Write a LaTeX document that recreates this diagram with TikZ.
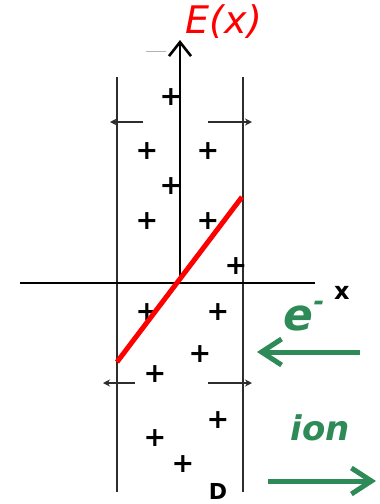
\documentclass[tikz,border=0pt]{standalone}
\usepackage{fontspec}
\setmainfont{DejaVu Sans}
\usetikzlibrary{arrows.meta}
\definecolor{sgreen}{RGB}{46,139,87}
\definecolor{darkline}{RGB}{45,45,45}
\tikzset{
  plate/.style={darkline,line width=2pt},
  axisline/.style={black,line width=1.8pt},
  plus/.style={inner sep=0pt,font=\fontsize{27}{27}\selectfont\bfseries},
  greenarrow/.style={sgreen,line width=5pt,-{Straight Barb[length=20pt,width=26pt,line width=5pt]}},
  smallarrow/.style={darkline,line width=1.8pt,-{Stealth[length=7pt,width=7pt]}},
  greentext/.style={sgreen,font=\fontsize{34}{34}\selectfont\itshape\bfseries},
}
\begin{document}
\begin{tikzpicture}[x=1pt,y=-1pt]
\useasboundingbox (0,0) rectangle (380,504);
% plates
\coordinate (LT) at (117,77); \coordinate (LB) at (117,492);
\coordinate (RT) at (243,77); \coordinate (RB) at (243,492);
\draw[plate] (LT) -- (LB);
\draw[plate] (RT) -- (RB);
% axes
\coordinate (XL) at (20,283); \coordinate (XR) at (315,283);
\coordinate (O) at (180,283); \coordinate (YT) at (180,40);
\draw[axisline] (XL) -- (XR);
\draw[black,line width=2.6pt,-{Straight Barb[length=14pt,width=22pt,line width=2.6pt]}] (O) -- (YT);
\coordinate (g1) at (146,51); \coordinate (g2) at (166,51);
\draw[gray!60,line width=1pt] (g1) -- (g2);
\node[anchor=west,inner sep=0pt,font=\fontsize{24}{24}\selectfont\bfseries] (xlab) at (334,293) {x};
\node[red,inner sep=0pt,font=\fontsize{38}{38}\selectfont\itshape] (Elab) at (224,22) {E(x)};
% small edge arrows
\coordinate (a1s) at (143,122); \coordinate (a1e) at (110,122);
\coordinate (a2s) at (208,122); \coordinate (a2e) at (252,122);
\coordinate (a3s) at (135,383); \coordinate (a3e) at (103,383);
\coordinate (a4s) at (208,383); \coordinate (a4e) at (252,383);
\draw[smallarrow] (a1s) -- (a1e);
\draw[smallarrow] (a2s) -- (a2e);
\draw[smallarrow] (a3s) -- (a3e);
\draw[smallarrow] (a4s) -- (a4e);
% charges
\node[plus] (p1) at (171,97) {+};
\node[plus] (p2) at (147,151) {+};
\node[plus] (p3) at (208,151) {+};
\node[plus] (p4) at (171,186) {+};
\node[plus] (p5) at (147,221) {+};
\node[plus] (p6) at (208,221) {+};
\node[plus] (p7) at (236,266) {+};
\node[plus] (p8) at (147,312) {+};
\node[plus] (p9) at (218,312) {+};
\node[plus] (p10) at (200,354) {+};
\node[plus] (p11) at (155,374) {+};
\node[plus] (p12) at (218,420) {+};
\node[plus] (p13) at (155,438) {+};
\node[plus] (p14) at (183,464) {+};
\node[inner sep=0pt,font=\fontsize{22}{22}\selectfont\bfseries] (D) at (218,491) {D};
% field line
\coordinate (F1) at (117,362); \coordinate (F2) at (242,197);
\draw[red,line width=5pt] (F1) -- (F2);
% carriers
\node[greentext,inner sep=0pt,font=\fontsize{44}{44}\selectfont\itshape\bfseries] (elab) at (304,316) {e\raisebox{20pt}{\fontsize{26}{26}\selectfont -}};
\coordinate (e1) at (360,352); \coordinate (e2) at (257,352);
\draw[greenarrow] (e1) -- (e2);
\node[greentext,inner sep=0pt] (ionlab) at (320,428) {ion};
\coordinate (i1) at (268,481); \coordinate (i2) at (376,481);
\draw[greenarrow] (i1) -- (i2);
\end{tikzpicture}
\end{document}
